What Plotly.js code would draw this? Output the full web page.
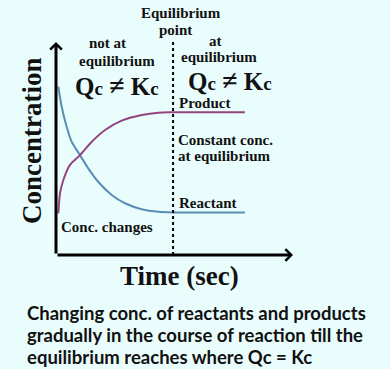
<!DOCTYPE html>
<html><head><meta charset="utf-8">
<script src="https://cdn.plot.ly/plotly-3.0.1.min.js"></script>
<style>html,body{margin:0;padding:0;background:#eafdfd;}#chart{width:390px;height:369px;}</style>
</head><body><div id="chart"></div>
<script>
// Data (arbitrary units: time 0-10, concentration 0-10)
const reactantTime = [0.10, 0.24, 0.45, 0.66, 1.01, 1.36, 1.78, 2.35, 2.91, 3.62, 4.32, 4.95, 7.97];
const reactantConc = [7.90, 6.96, 6.02, 5.32, 4.69, 4.07, 3.44, 2.82, 2.43, 2.15, 2.03, 2.00, 2.00];
const productTime  = [0.10, 0.17, 0.31, 0.59, 1.01, 1.51, 2.07, 2.77, 3.62, 4.32, 4.88, 7.97];
const productConc  = [1.96, 2.90, 3.52, 4.23, 4.69, 5.32, 5.87, 6.31, 6.57, 6.68, 6.70, 6.70];
const equilibriumTime = 4.94;
const axisLabels = {x: 'Time (sec)', y: 'Concentration'};
const captionLines = [
  'Changing conc. of reactants and products',
  'gradually in the course of reaction till the',
  'equilibrium reaches where Qc = Kc'
];

const L = 56, T = 42, W = 237, H = 213;
function px(x){ return (x - L) / W; }
function py(y){ return (T + H - y) / H; }

const serif = 'Liberation Serif, Times New Roman, serif';
const ink = '#111111';

function label(text, x, y, size, anchor, family){
  return {text: text, xref: 'paper', yref: 'paper', x: px(x), y: py(y),
    xanchor: anchor || 'center', yanchor: 'middle', showarrow: false,
    font: {family: family || serif, size: size || 15, color: ink, weight: 'bold'}};
}

const traces = [
  {x: reactantTime, y: reactantConc, mode: 'lines', line: {color: '#5a8db4', width: 2, shape: 'spline', smoothing: 0.8}, hoverinfo: 'skip'},
  {x: productTime, y: productConc, mode: 'lines', line: {color: '#94457f', width: 2, shape: 'spline', smoothing: 0.8}, hoverinfo: 'skip'}
];

const qk = 'Q<span style="font-size:19px">c</span> <span style="font-size:28px">≠</span> K<span style="font-size:19px">c</span>';

const annotations = [
  label('Equilibrium', 181, 13),
  label('point', 175, 30),
  label('not at', 107, 43),
  label('equilibrium', 117, 61),
  label('at', 215, 41),
  label('equilibrium', 219, 57),
  label(qk, 117, 85, 25),
  label(qk, 230, 80, 25),
  label('Product', 177, 103, 15, 'left'),
  label('Constant conc.', 176, 140, 15, 'left'),
  label('at equilibrium', 176, 156, 15, 'left'),
  label('Reactant', 177, 203, 15, 'left'),
  label('Conc. changes', 59, 227, 15, 'left'),
  label(axisLabels.x, 179, 276, 27),
  Object.assign(label(axisLabels.y, 32, 141, 27), {textangle: -90}),
  label(captionLines[0], 25, 313, 18.5, 'left', 'Lato, sans-serif'),
  label(captionLines[1], 25, 335, 18.5, 'left', 'Lato, sans-serif'),
  label(captionLines[2], 25, 357, 18.5, 'left', 'Lato, sans-serif'),
  // axis arrows
  {text: '', xref: 'paper', yref: 'paper', x: 0, y: 1, axref: 'pixel', ayref: 'pixel', ax: 0, ay: H,
   showarrow: true, arrowhead: 4, arrowsize: 0.75, arrowwidth: 3, arrowcolor: '#000', standoff: 0},
  {text: '', xref: 'paper', yref: 'paper', x: 1, y: 0, axref: 'pixel', ayref: 'pixel', ax: -W, ay: 0,
   showarrow: true, arrowhead: 4, arrowsize: 0.75, arrowwidth: 3, arrowcolor: '#000', standoff: 0}
];

const layout = {
  width: 390, height: 369,
  margin: {l: L, r: 390 - L - W, t: T, b: 369 - T - H, pad: 0},
  paper_bgcolor: '#eafdfd', plot_bgcolor: 'rgba(0,0,0,0)',
  showlegend: false,
  xaxis: {range: [0, 10], visible: false, fixedrange: true},
  yaxis: {range: [0, 10], visible: false, fixedrange: true},
  shapes: [
    {type: 'line', xref: 'x', yref: 'paper', x0: equilibriumTime, x1: equilibriumTime, y0: 0, y1: 1,
     line: {color: '#000', width: 2, dash: 'dot'}}
  ],
  annotations: annotations
};

Plotly.newPlot('chart', traces, layout, {staticPlot: true, displayModeBar: false});
</script></body></html>
